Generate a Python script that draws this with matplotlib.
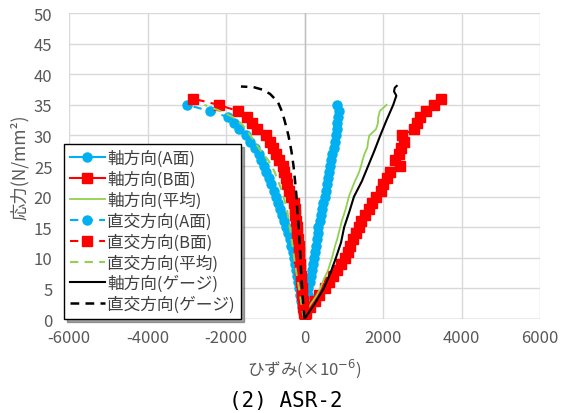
import matplotlib
matplotlib.use("Agg")
import matplotlib.pyplot as plt

plt.rcParams['font.family'] = ['Noto Sans CJK JP', 'DejaVu Sans']
plt.rcParams['axes.unicode_minus'] = False

# --- data (stress N/mm2, strain x10^-6) ---
stress_a = list(range(0, 36))
axial_a = [0, 15, 35, 55, 80, 100, 130, 155, 180, 215, 245, 265, 290, 310, 335, 355,
           385, 415, 445, 480, 510, 540, 570, 595, 625, 650, 680, 710, 740, 770, 800,
           815, 835, 850, 870, 830]
ortho_a = [0, -35, -60, -85, -115, -140, -165, -195, -220, -245, -270, -300, -335, -375,
           -415, -460, -510, -570, -620, -680, -730, -780, -850, -910, -970, -1030, -1100,
           -1170, -1260, -1380, -1500, -1660, -1800, -1950, -2420, -2990]

stress_b = list(range(0, 37))
axial_b = [0, 30, 130, 260, 380, 510, 620, 720, 830, 930, 1020, 1100, 1170, 1240, 1310,
           1380, 1450, 1540, 1640, 1730, 1830, 1940, 2010, 2100, 2190, 2440, 2310, 2400,
           2470, 2530, 2490, 2780, 2870, 2950, 3100, 3290, 3480]
ortho_b = [0, -20, -30, -45, -60, -70, -80, -95, -105, -120, -130, -140, -150, -165, -180,
           -195, -215, -235, -255, -280, -340, -400, -450, -480, -520, -560, -650, -730,
           -800, -870, -980, -1210, -1350, -1470, -1700, -2190, -2830]

stress_avg = list(range(0, 36))
axial_avg = [0, 40, 110, 220, 320, 400, 460, 530, 600, 650, 700, 740, 780, 830, 870, 910,
             950, 1000, 1050, 1090, 1130, 1190, 1250, 1320, 1390, 1440, 1480, 1530, 1600,
             1620, 1650, 1820, 1870, 1880, 1920, 2090]
ortho_avg = [0, -40, -70, -90, -115, -140, -165, -195, -220, -245, -265, -285, -305, -330,
             -350, -375, -400, -425, -450, -490, -540, -580, -640, -700, -760, -840, -930,
             -1060, -1170, -1270, -1380, -1480, -1620, -1826, -2150, -2550]

stress_ga = [0, 1, 2.5, 5, 7.5, 10, 12.5, 15, 17.5, 20, 22.5, 25, 27.5, 30, 32.5, 35,
             36.5, 37.2, 37.8, 38.1]
axial_gauge = [0, 100, 260, 490, 660, 800, 930, 1010, 1140, 1260, 1460, 1620, 1780, 1930,
               2090, 2260, 2340, 2280, 2300, 2350]
stress_go = [0, 2.5, 5, 7.5, 10, 12.5, 15, 17.5, 20, 22.5, 25, 27.5, 30, 32.5, 34, 35.5,
             36.8, 37.5, 37.9, 38.0]
ortho_gauge = [0, -35, -60, -85, -105, -125, -150, -180, -205, -240, -280, -335, -410,
               -510, -580, -680, -880, -1080, -1300, -1620]

labels = ['軸方向(A面)', '軸方向(B面)', '軸方向(平均)', '直交方向(A面)', '直交方向(B面)',
          '直交方向(平均)', '軸方向(ゲージ)', '直交方向(ゲージ)']

BLUE = '#00B0F0'
RED = '#FF0000'
GREEN = '#92D050'
GRAY = '#595959'

fig = plt.figure(figsize=(5.61, 4.14), dpi=100)
ax = fig.add_axes([0.123, 0.227, 0.8396, 0.739])

ax.plot(axial_a, stress_a, color=BLUE, lw=1.5, marker='o', ms=6.5, label=labels[0])
ax.plot(axial_b, stress_b, color=RED, lw=1.5, marker='s', ms=6.5, label=labels[1])
ax.plot(axial_avg, stress_avg, color=GREEN, lw=1.3, label=labels[2])
ax.plot(ortho_a, stress_a, color=BLUE, lw=1.5, ls=(0, (4, 3)), marker='o', ms=6.5, label=labels[3])
ax.plot(ortho_b, stress_b, color=RED, lw=1.5, ls=(0, (4, 3)), marker='s', ms=6.5, label=labels[4])
ax.plot(ortho_avg, stress_avg, color=GREEN, lw=1.5, ls=(0, (4, 3)), label=labels[5])
ax.plot(axial_gauge, stress_ga, color='black', lw=1.5, label=labels[6])
ax.plot(ortho_gauge, stress_go, color='black', lw=1.8, ls=(0, (3.5, 2.5)), label=labels[7])

ax.set_xlim(-6000, 6000)
ax.set_ylim(0, 50)
ax.set_xticks(range(-6000, 6001, 2000))
ax.set_yticks(range(0, 51, 5))
ax.grid(True, color='#D9D9D9', lw=1)
ax.set_axisbelow(True)
for s in ax.spines.values():
    s.set_visible(False)
ax.axvline(0, color='#BFBFBF', lw=1, zorder=1)
ax.axhline(0, color='#BFBFBF', lw=1, zorder=1)
ax.tick_params(length=0, labelsize=12, labelcolor=GRAY)
ax.tick_params(axis='y', pad=12)
ax.tick_params(axis='x', pad=7)

ax.set_xlabel('ひずみ(×10$^{-6}$)', fontsize=12, color=GRAY, labelpad=8)
ax.set_ylabel('応力(N/mm²)', fontsize=12.5, color=GRAY, labelpad=3)

leg = ax.legend(loc='upper left', bbox_to_anchor=(0.114, 0.650), bbox_transform=fig.transFigure,
                fontsize=12, frameon=True, fancybox=False, shadow=True, edgecolor='black',
                framealpha=1, handlelength=2.1, handletextpad=0.15, labelspacing=0.22,
                borderpad=0.35, borderaxespad=0)
leg.get_frame().set_linewidth(1)
for t in leg.get_texts():
    t.set_color('#404040')

fig.text(0.51, 1 - 401 / 414, '(2) ASR-2', fontsize=15, family='DejaVu Sans Mono',
         ha='center', va='center')

fig.savefig('out.png', dpi=100)
